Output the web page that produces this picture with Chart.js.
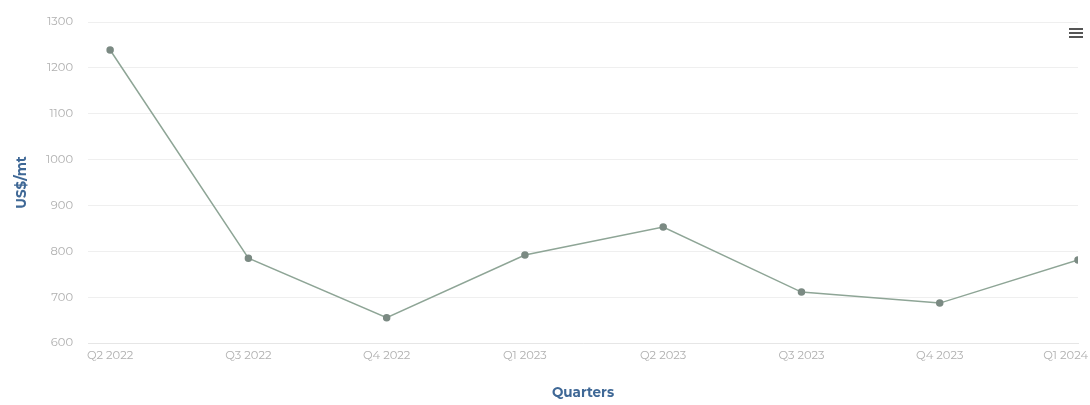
<!DOCTYPE html>
<html>
<head>
<meta charset="utf-8">
<script src="https://cdn.jsdelivr.net/npm/chart.js@4"></script>
<style>
  html, body { margin: 0; padding: 0; background: #fff; }
  #wrap { position: relative; width: 1090px; height: 405px; }
  #menu { position: absolute; left: 1069px; top: 28px; width: 14px; }
  #menu span { display: block; height: 2px; background: #555; margin-bottom: 2px; }
</style>
</head>
<body>
<div id="wrap">
  <canvas id="chart" width="1090" height="405"></canvas>
  <div id="menu"><span></span><span></span><span></span></div>
</div>
<script>
// quarterly price, US$/mt
const quarters = ["Q2 2022", "Q3 2022", "Q4 2022", "Q1 2023", "Q2 2023", "Q3 2023", "Q4 2023", "Q1 2024"];
const prices = [1239, 785, 655, 792, 853, 711, 687, 781];
const yTicks = [600, 700, 800, 900, 1000, 1100, 1200, 1300];

const tickFont = { family: "Montserrat, 'Open Sans', sans-serif", size: 11.5 };
const titleFont = { family: "Montserrat, 'Open Sans', sans-serif", size: 13.5, weight: "bold" };

// keep the last category label inside the canvas (like the original)
const lastLabelInside = {
  id: "lastLabelInside",
  beforeDraw(chart) {
    const x = chart.scales.x;
    const items = x.getLabelItems();
    const last = items[items.length - 1];
    if (!last) return;
    last.options.textAlign = "right";
    last.options.translation[0] = x.getPixelForValue(quarters.length - 1) + 10;
  },
};

new Chart(document.getElementById("chart"), {
  type: "line",
  data: {
    datasets: [{
      label: "Price",
      data: prices.map((v, i) => ({ x: i, y: v })),
      borderColor: "#8ea596",
      borderWidth: 1.5,
      pointRadius: 3,
      pointBackgroundColor: "#7b8a83",
      pointBorderColor: "#7b8a83",
      tension: 0,
    }],
  },
  options: {
    responsive: false,
    animation: false,
    layout: { padding: { top: 22, right: 0, left: 10, bottom: 0 } },
    scales: {
      x: {
        type: "linear",
        min: -0.16,
        max: 7,
        grid: { display: false, drawTicks: false },
        border: { color: "#e6e6e6" },
        afterBuildTicks: (scale) => {
          scale.ticks = quarters.map((q, i) => ({ value: i }));
        },
        ticks: {
          color: "#b0b0b0",
          font: tickFont,
          padding: 6,
          maxRotation: 0,
          callback: (v) => quarters[v],
        },
        title: { display: true, text: "Quarters", color: "#3f6896", font: titleFont, padding: { top: 24 } },
        afterFit: (scale) => {
          scale.height = 62;
          scale.paddingLeft = 0;
          scale.paddingRight = 12;
        },
      },
      y: {
        min: 600,
        max: 1300,
        grid: { color: "#efefef", drawTicks: false },
        border: { display: false },
        afterBuildTicks: (scale) => {
          scale.ticks = yTicks.map((v) => ({ value: v }));
        },
        ticks: { color: "#b0b0b0", font: tickFont, padding: 15, callback: (v) => String(v) },
        title: { display: true, text: "US$/mt", color: "#3f6896", font: titleFont, padding: { bottom: 0 } },
        afterFit: (scale) => {
          scale.width = 78;
        },
      },
    },
    plugins: {
      legend: { display: false },
      tooltip: { enabled: false },
    },
  },
  plugins: [lastLabelInside],
});
</script>
</body>
</html>
